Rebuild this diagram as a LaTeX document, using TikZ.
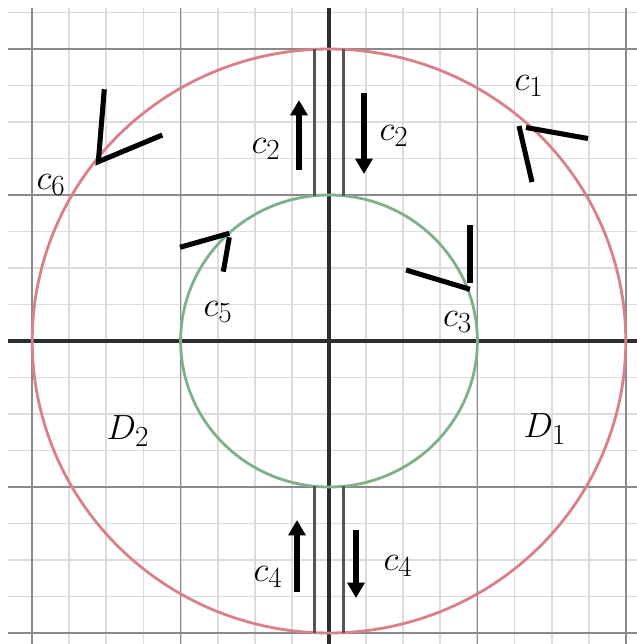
\documentclass[tikz,border=0pt]{standalone}
\usetikzlibrary{arrows.meta}
\definecolor{minorgrid}{HTML}{DCDCDC}
\definecolor{majorgrid}{HTML}{8A8A8A}
\definecolor{axiscol}{HTML}{2E2E2E}
\definecolor{slitcol}{HTML}{555555}
\definecolor{outercol}{HTML}{D9808A}
\definecolor{innercol}{HTML}{7FB08C}
\begin{document}
\begin{tikzpicture}[x=0.025cm,y=-0.025cm,
  minorline/.style={draw=minorgrid,line width=1.3pt},
  majorline/.style={draw=majorgrid,line width=1.2pt},
  axisline/.style={draw=axiscol,line width=2.4pt},
  slitline/.style={draw=slitcol,line width=2pt},
  outerarc/.style={draw=outercol,line width=2pt},
  innerarc/.style={draw=innercol,line width=2pt},
  vmark/.style={draw=black,line width=3.6pt},
  flowarrow/.style={draw=black,line width=4.2pt,-{Triangle[length=11pt,width=12pt]}},
  lbl/.style={inner sep=0pt,font=\fontsize{28}{32}\selectfont}]
\useasboundingbox (0,0) rectangle (637,644);
\fill[white] (0,0) rectangle (637,644);
% minor grid
\foreach \k in {-8,...,8} {
  \pgfmathsetmacro\xx{329+37.1*\k}
  \draw[minorline] (\xx,8) -- (\xx,644);
}
\foreach \k in {-9,...,8} {
  \pgfmathsetmacro\yy{341+36.5*\k}
  \draw[minorline] (8,\yy) -- (637,\yy);
}
% major grid
\foreach \k in {-8,-4,4,8} {
  \pgfmathsetmacro\xx{329+37.1*\k}
  \draw[majorline] (\xx,8) -- (\xx,644);
  \pgfmathsetmacro\yy{341+36.5*\k}
  \draw[majorline] (8,\yy) -- (637,\yy);
}
% axes
\coordinate (xl) at (8,341);
\coordinate (xr) at (637,341);
\coordinate (yt) at (329,8);
\coordinate (yb) at (329,644);
\draw[axisline] (xl) -- (xr);
\draw[axisline] (yt) -- (yb);
% circles
\draw[outerarc] plot[domain=87.2:272.8,samples=120] ({329+296.8*cos(\x)},{341-292*sin(\x)});
\draw[outerarc] plot[domain=-87.2:87.2,samples=120] ({329+296.8*cos(\x)},{341-292*sin(\x)});
\draw[innerarc] plot[domain=84.4:275.6,samples=100] ({329+148.4*cos(\x)},{341-146*sin(\x)});
\draw[innerarc] plot[domain=-84.4:84.4,samples=100] ({329+148.4*cos(\x)},{341-146*sin(\x)});
% slit lines
\coordinate (stlo) at (314.5,49.4);
\coordinate (stli) at (314.5,195.7);
\coordinate (stro) at (343.5,49.4);
\coordinate (stri) at (343.5,195.7);
\coordinate (sblo) at (314.5,632.6);
\coordinate (sbli) at (314.5,486.3);
\coordinate (sbro) at (343.5,632.6);
\coordinate (sbri) at (343.5,486.3);
\draw[slitline] (stlo) -- (stli);
\draw[slitline] (stro) -- (stri);
\draw[slitline] (sblo) -- (sbli);
\draw[slitline] (sbro) -- (sbri);
% flow arrows
\coordinate (a1s) at (299,170);
\coordinate (a1e) at (299,100);
\coordinate (a2s) at (364,93);
\coordinate (a2e) at (364,174);
\coordinate (a3s) at (297,592);
\coordinate (a3e) at (297,520);
\coordinate (a4s) at (356,530);
\coordinate (a4e) at (356,598);
\draw[flowarrow] (a1s) -- (a1e);
\draw[flowarrow] (a2s) -- (a2e);
\draw[flowarrow] (a3s) -- (a3e);
\draw[flowarrow] (a4s) -- (a4e);
% direction marks
\coordinate (m1a) at (519,126);
\coordinate (m1b) at (532,182);
\coordinate (m1c) at (526,127.5);
\coordinate (m1d) at (588,138.5);
\draw[vmark] (m1a) -- (m1b);
\draw[vmark] (m1c) -- (m1d);
\coordinate (m6a) at (104.3,89.3);
\coordinate (m6b) at (98.3,161.7);
\coordinate (m6c) at (162.3,135);
\draw[vmark,line join=miter] (m6a) -- (m6b) -- (m6c);
\coordinate (m5a) at (180,247.3);
\coordinate (m5b) at (229.3,233.3);
\coordinate (m5c) at (229.3,237.3);
\coordinate (m5d) at (223.3,271.7);
\draw[vmark] (m5a) -- (m5b);
\draw[vmark] (m5c) -- (m5d);
\coordinate (m3a) at (470,225);
\coordinate (m3b) at (470,282.7);
\coordinate (m3c) at (406,270);
\coordinate (m3d) at (470,289.3);
\draw[vmark] (m3a) -- (m3b);
\draw[vmark] (m3c) -- (m3d);
% labels
\node[lbl] (c1) at (529,86) {$c_1$};
\node[lbl] (c2l) at (266,149) {$c_2$};
\node[lbl] (c2r) at (394,136) {$c_2$};
\node[lbl] (c3) at (457.5,322) {$c_3$};
\node[lbl] (c4l) at (268,577) {$c_4$};
\node[lbl] (c4r) at (398,566) {$c_4$};
\node[lbl] (c5) at (218,312) {$c_5$};
\node[lbl] (c6) at (51,185) {$c_6$};
\node[lbl] (D2) at (128,431) {$D_2$};
\node[lbl] (D1) at (545,429) {$D_1$};
\end{tikzpicture}
\end{document}
